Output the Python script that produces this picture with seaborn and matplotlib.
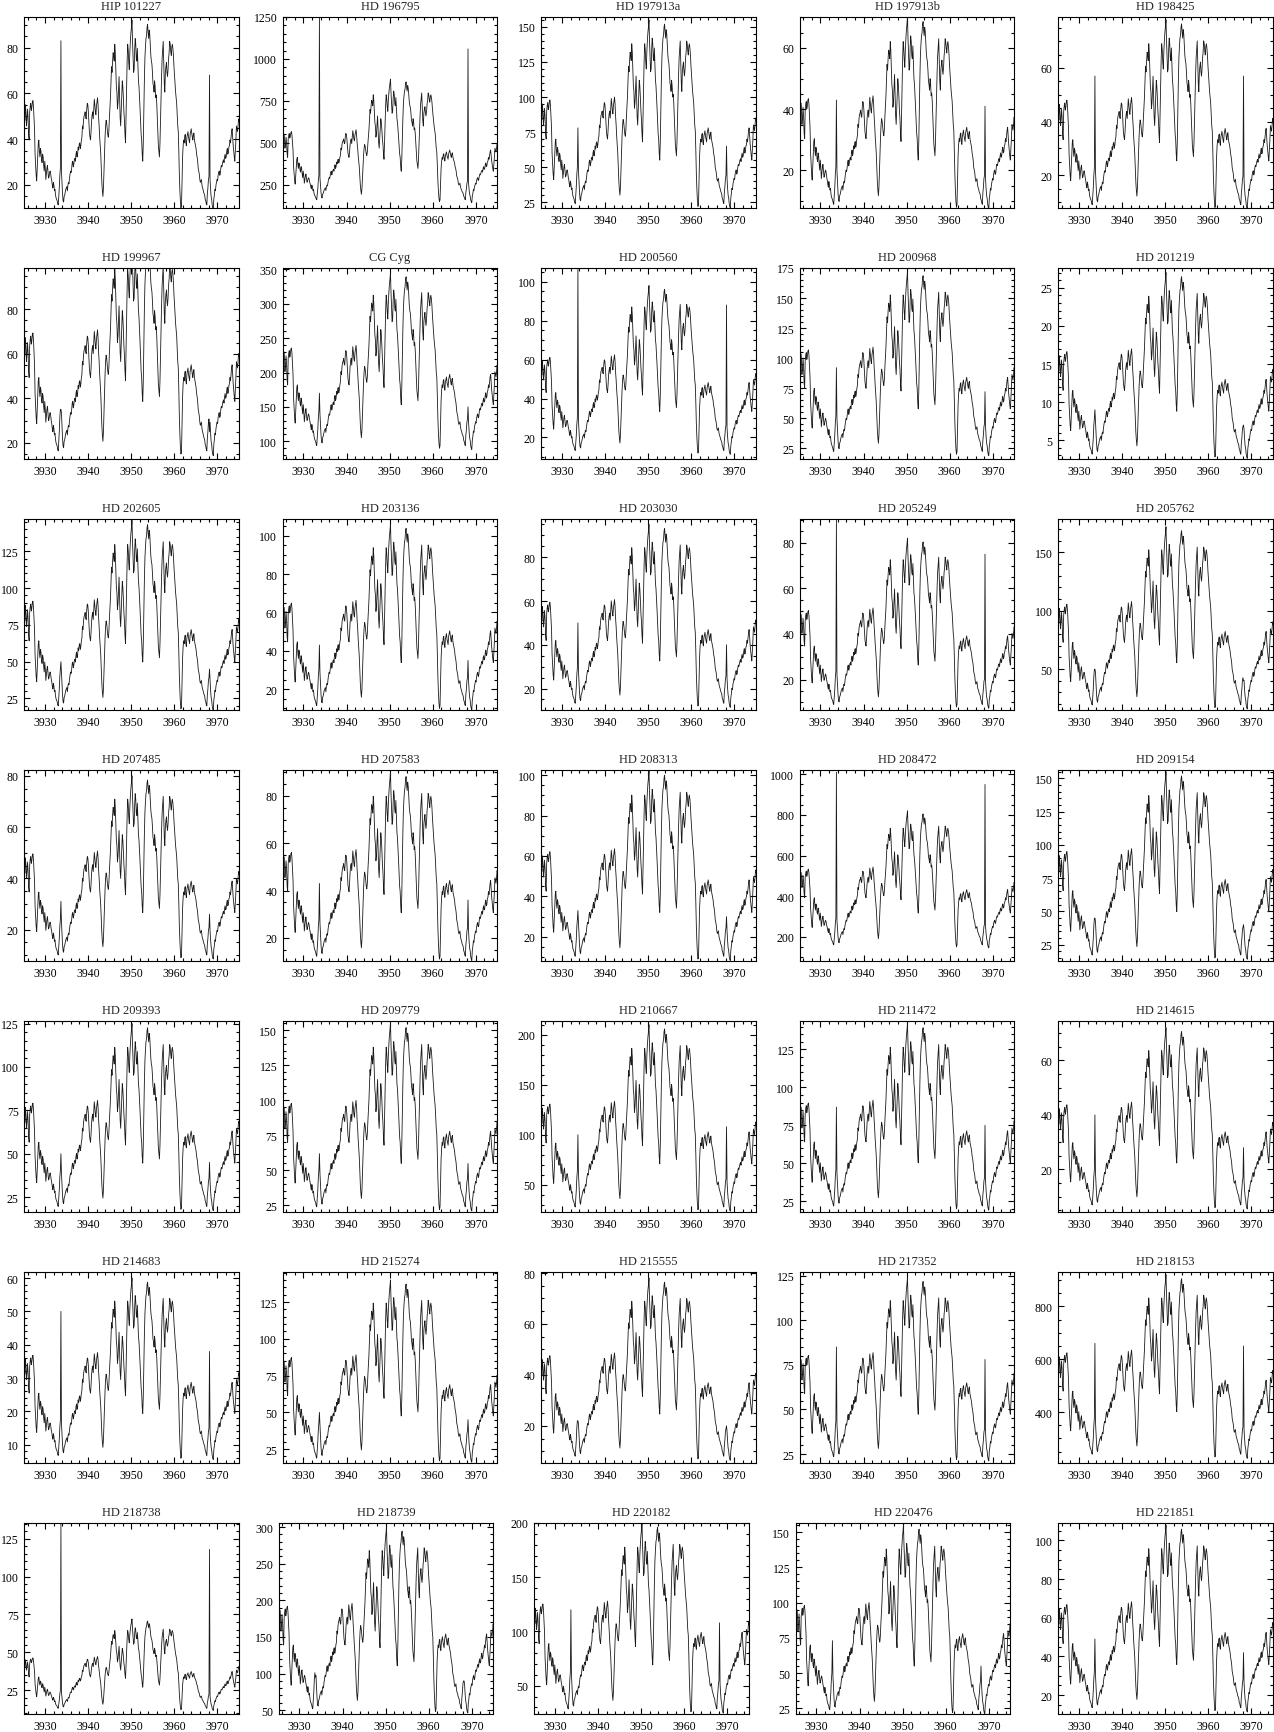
import numpy as np
import pandas as pd
import matplotlib
matplotlib.use("Agg")
import matplotlib.pyplot as plt
import seaborn as sns
from matplotlib.ticker import MultipleLocator

# ---------------- data ----------------
# sampling of the spectra (Angstrom)
wl_start = 3925.2
wl_step = 0.125

# reference profile (flux units of that panel)
ref_flux = [
    88, 84, 95, 90, 80, 85, 92, 86, 74, 70, 90, 94, 96, 91, 93, 97, 98, 94, 86, 78,
    60, 52, 45, 41, 50, 60, 68, 70, 62, 58, 64, 62, 56, 54, 60, 58, 52, 48, 55, 50,
    42, 46, 50, 52, 47, 43, 44, 47, 48, 46, 43, 41, 38, 36, 40, 38, 34, 35, 31, 29,
    28, 27, 25, 24, 30, 36, 45, 50, 78, 48, 40, 32, 27, 26, 30, 31, 33, 35, 36, 37,
    34, 38, 40, 39, 43, 46, 48, 47, 50, 54, 55, 51, 53, 56, 57, 55, 60, 62, 58, 60,
    65, 63, 67, 68, 64, 66, 70, 72, 80, 78, 84, 87, 88, 90, 86, 85, 92, 96, 95, 90,
    82, 75, 72, 70, 76, 84, 88, 90, 85, 92, 99, 95, 90, 88, 94, 97, 100, 95, 86, 80,
    72, 66, 60, 50, 40, 34, 30, 36, 48, 62, 72, 80, 84, 82, 78, 74, 72, 76, 85, 92,
    100, 112, 122, 118, 126, 132, 130, 126, 138, 132, 120, 108, 104, 92, 96, 106, 115, 100, 86, 80,
    90, 102, 112, 108, 100, 90, 84, 74, 68, 88, 110, 126, 138, 134, 125, 120, 132, 140, 146, 150,
    155, 140, 130, 118, 120, 134, 142, 138, 128, 126, 135, 124, 112, 108, 100, 92, 82, 74, 70, 60,
    55, 68, 92, 112, 128, 136, 142, 144, 150, 152, 146, 142, 148, 145, 138, 130, 126, 124, 118, 110,
    108, 104, 112, 108, 100, 102, 96, 86, 75, 66, 62, 58, 68, 84, 100, 116, 128, 134, 140, 126,
    110, 104, 118, 122, 125, 118, 115, 120, 128, 132, 140, 138, 133, 130, 136, 138, 135, 130, 122, 116,
    110, 104, 100, 96, 88, 80, 76, 62, 45, 34, 26, 22, 24, 40, 58, 66, 70, 68, 73, 74,
    68, 66, 72, 74, 76, 72, 70, 68, 74, 76, 78, 75, 72, 70, 74, 75, 70, 68, 66, 64,
    60, 58, 55, 50, 48, 46, 42, 40, 41, 42, 38, 36, 35, 33, 32, 31, 28, 27, 25, 24,
    32, 36, 42, 44, 65, 42, 35, 30, 28, 24, 22, 21, 28, 31, 35, 34, 38, 40, 42, 41,
    45, 47, 48, 45, 46, 50, 52, 51, 53, 55, 56, 54, 58, 60, 57, 58, 62, 64, 60, 61,
    65, 66, 70, 68, 72, 76, 78, 72, 66, 62, 58, 55, 62, 70, 80, 78, 76, 80, 85, 83,
]
ref_floor = 22.0
ref_peak = 155.0
k_index = 68   # Ca II K emission core
h_index = 344  # Ca II H emission core

titles = [
    "HIP 101227", "HD 196795", "HD 197913a", "HD 197913b", "HD 198425",
    "HD 199967", "CG Cyg", "HD 200560", "HD 200968", "HD 201219",
    "HD 202605", "HD 203136", "HD 203030", "HD 205249", "HD 205762",
    "HD 207485", "HD 207583", "HD 208313", "HD 208472", "HD 209154",
    "HD 209393", "HD 209779", "HD 210667", "HD 211472", "HD 214615",
    "HD 214683", "HD 215274", "HD 215555", "HD 217352", "HD 218153",
    "HD 218738", "HD 218739", "HD 220182", "HD 220476", "HD 221851",
]
y_low = [
    10.1, 115, 21.2, 7.9, 8.0,
    13.0, 75, 9.2, 16.4, 2.6,
    17.5, 9.4, 10.4, 6.9, 15.4,
    7.9, 10.4, 8.3, 83, 13.0,
    16.7, 20.7, 23.3, 18.2, 4.6,
    4.7, 15.9, 5.6, 20.3, 209,
    9.5, 45.4, 24.4, 21.4, 10.5,
]
y_high = [
    93.4, 1250, 157.1, 70.1, 79.0,
    98.4, 352, 107, 175, 27.6,
    147, 108.7, 97.5, 90.4, 178.6,
    82.3, 91.0, 102.5, 1021, 156.3,
    126.5, 156.7, 213.7, 143.7, 74.4,
    61.8, 145.4, 80.4, 127, 930,
    135.4, 305.5, 200, 156.4, 109,
]
flux_floor = [
    10, 150, 22, 8, 8,
    15, 90, 12, 20, 2.8,
    18, 10, 12, 8, 17,
    9, 11, 9, 150, 15,
    18, 22, 25, 20, 6,
    6, 17, 7, 22, 230,
    12, 48, 26, 22, 12,
]
flux_peak = [
    92, 880, 155, 70, 78,
    110, 345, 98, 172, 27,
    146, 106, 95, 82, 172,
    80, 90, 102, 820, 155,
    125, 155, 210, 142, 72,
    60, 140, 78, 124, 920,
    72, 300, 200, 155, 108,
]
k_peak = [
    83, 1250, 78, 43, 57,
    35, 170, 107, 92, 9,
    50, 43, 50, 90, 50,
    31, 43, 33, 1010, 45,
    50, 62, 100, 87, 40,
    50, 50, 22, 85, 660,
    135, 95, 120, 73, 49,
]
h_peak = [
    68, 1060, 65, 41, 57,
    25, 150, 88, 72, 7,
    45, 35, 40, 75, 40,
    26, 36, 30, 950, 40,
    45, 55, 108, 75, 28,
    38, 45, 20, 78, 650,
    118, 90, 108, 55, 42,
]
major_step = [
    20, 250, 25, 20, 20,
    20, 50, 20, 25, 5,
    25, 20, 20, 20, 50,
    20, 20, 20, 200, 25,
    25, 25, 50, 25, 20,
    10, 25, 20, 25, 200,
    25, 50, 50, 25, 20,
]
x_range = (3925.2, 3975.0)
x_major, x_minor = 10, 2

# ---------------- style ----------------
sns.set_style("white")
plt.rcParams["font.family"] = ["Liberation Serif", "DejaVu Serif"]
plt.rcParams["axes.linewidth"] = 0.8

W, H = 1274, 1733
fig = plt.figure(figsize=(W / 100, H / 100), dpi=100)

minor_of = {5: 1, 10: 2, 20: 5, 25: 5, 50: 10, 200: 50, 250: 50}
row7_shift = [0, -4, -7, -4, 0]

wl = wl_start + wl_step * np.arange(len(ref_flux))
ref = np.asarray(ref_flux, dtype=float)
norm = (ref - ref_floor) / (ref_peak - ref_floor)

for i, title in enumerate(titles):
    r, c = divmod(i, 5)
    left_px = 24.3 + 258.5 * c + (row7_shift[c] if r == 6 else 0)
    top_px = 18 + 251 * r
    w_px, h_px = 214.5, 190.5
    ax = fig.add_axes([left_px / W, 1 - (top_px + h_px) / H, w_px / W, h_px / H])

    flux = flux_floor[i] + norm * (flux_peak[i] - flux_floor[i])
    flux[k_index] = k_peak[i]
    flux[h_index] = h_peak[i]
    df = pd.DataFrame({"wavelength": wl, "flux": flux})
    sns.lineplot(data=df, x="wavelength", y="flux", ax=ax, sort=False,
                 estimator=None, color="#1a1a1a", linewidth=0.6)

    ax.set_xlim(*x_range)
    ax.set_ylim(y_low[i], y_high[i])
    ax.set_xlabel("")
    ax.set_ylabel("")
    ax.set_title(title, fontsize=9, pad=6)
    ax.xaxis.set_major_locator(MultipleLocator(x_major))
    ax.xaxis.set_minor_locator(MultipleLocator(x_minor))
    ax.yaxis.set_major_locator(MultipleLocator(major_step[i]))
    ax.yaxis.set_minor_locator(MultipleLocator(minor_of[major_step[i]]))
    ax.tick_params(which="both", direction="in", top=True, right=True,
                   bottom=True, left=True, color="black", width=0.8)
    ax.tick_params(which="major", length=4.5, labelsize=8.5, labelcolor="black")
    ax.tick_params(axis="x", which="major", pad=5)
    ax.tick_params(axis="y", which="major", pad=4)
    ax.tick_params(which="minor", length=2.5)
    for s in ax.spines.values():
        s.set_visible(True)
        s.set_color("black")
        s.set_linewidth(0.8)

fig.savefig("out.png", dpi=100)
